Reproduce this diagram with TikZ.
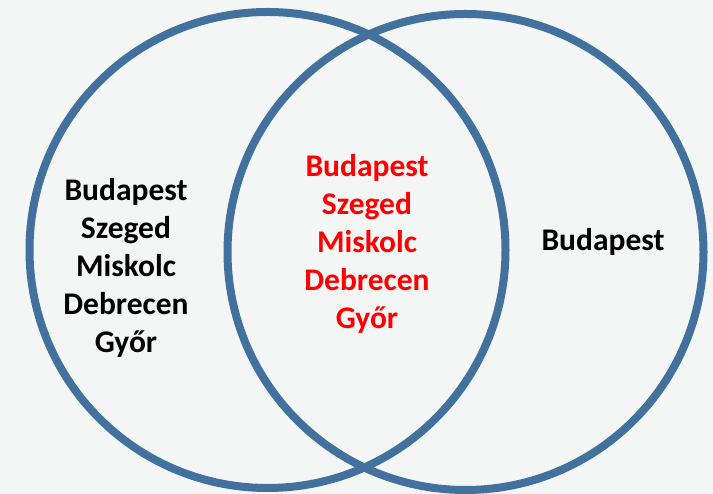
\documentclass[tikz,border=0pt]{standalone}
\usepackage{fontspec}
\setmainfont{Carlito}
\definecolor{setblue}{RGB}{65,113,156}
\definecolor{paper}{RGB}{244,246,246}

\begin{document}
\begin{tikzpicture}[x=1pt,y=1pt]

\tikzstyle{set}=[circle, draw=setblue, line width=8pt, minimum size=476pt, inner sep=0pt]
\tikzstyle{cities}=[align=center, font=\bfseries\fontsize{31.5}{38}\selectfont]
\tikzstyle{common}=[cities, text=red]

\fill[paper] (0,0) rectangle (713,494);
\useasboundingbox (0,0) rectangle (713,494);

\node[set] (leftset) at (267.5,244) {};
\node[set] (rightset) at (465.5,242) {};

\node[cities] (leftlist) at (126,226) {Budapest\\Szeged\\Miskolc\\Debrecen\\Győr};
\node[common] (bothlist) at (367,250) {Budapest\\Szeged\\Miskolc\\Debrecen\\Győr};
\node[cities] (rightlist) at (603,252) {Budapest};
\end{tikzpicture}
\end{document}
